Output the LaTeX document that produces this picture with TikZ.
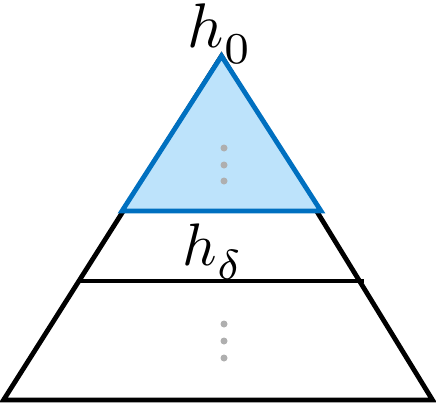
\documentclass[tikz,border=0pt]{standalone}
\begin{document}
\begin{tikzpicture}[x=1pt,y=-1pt,
  outline/.style={draw=black,line width=4.8pt,line join=miter},
  bluetri/.style={draw=blueline,fill=bluefill,line width=4.8pt,line join=miter},
  dot/.style={circle,fill=dotgrey,inner sep=0pt,minimum size=7pt},
  lbl/.style={inner sep=0pt,anchor=base}]
\definecolor{blueline}{HTML}{0070C0}
\definecolor{bluefill}{HTML}{BDE3FB}
\definecolor{dotgrey}{HTML}{AFAFAF}
\useasboundingbox (0,0) rectangle (436,404);
\coordinate (A) at (221.5,56);
\coordinate (BL) at (3.5,400);
\coordinate (BR) at (432.5,400);
\coordinate (ML) at (78.6,281);
\coordinate (MR) at (364.4,281);
\coordinate (UL) at (122,211);
\coordinate (UR) at (321,211);
\draw[outline] (A) -- (BL) -- (BR) -- cycle;
\draw[outline] (ML) -- (MR);
\draw[bluetri] (A) -- (UL) -- (UR) -- cycle;
\foreach \y [count=\i] in {148,165,181} {\node[dot] (u\i) at (224,\y) {};}
\foreach \y [count=\i] in {324,341,358} {\node[dot] (l\i) at (224,\y) {};}
\node[lbl] (h0) at (220,48) {\scalebox{6.3}{$h_{\raisebox{-0.9pt}{$\scriptstyle 0$}}$}};
\node[lbl] (hd) at (213,265) {\scalebox{6}{$h_{\raisebox{-0.9pt}{$\scriptstyle\delta$}}$}};
\end{tikzpicture}
\end{document}
